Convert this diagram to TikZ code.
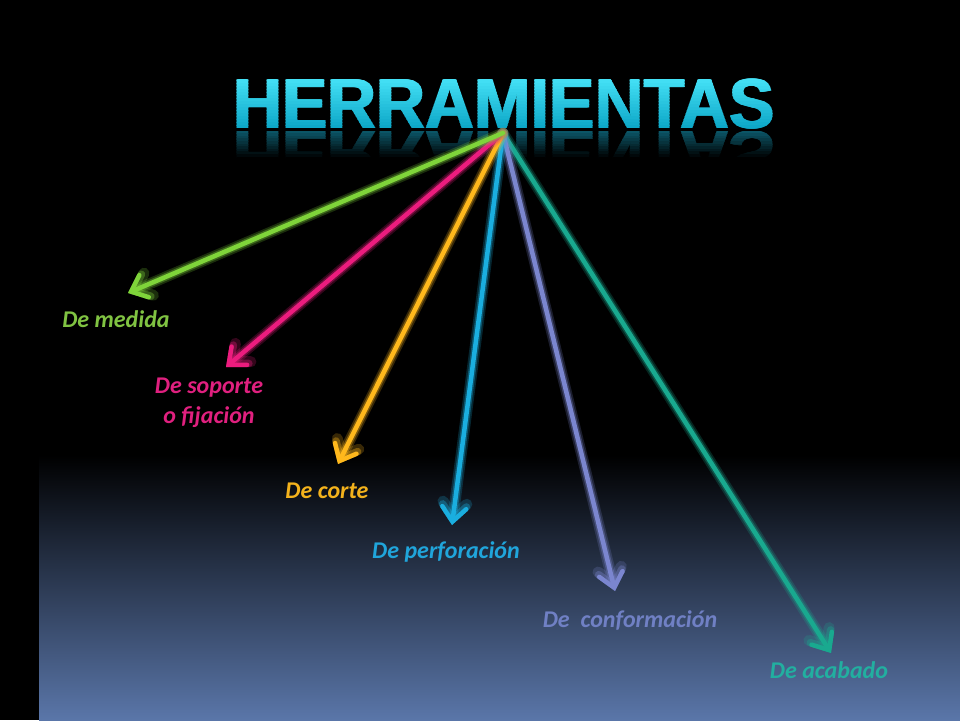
\documentclass[tikz,border=0pt]{standalone}
\usepackage{fontspec}
\setmainfont{Carlito}
\newfontfamily\titlefont{Liberation Sans}
\usetikzlibrary{arrows.meta}

\definecolor{bgbottom}{HTML}{5A76A9}
\definecolor{ctop}{HTML}{45E2F7}
\definecolor{cbot}{HTML}{0EA8C8}
\definecolor{rtop}{HTML}{0B5566}

\definecolor{agreen}{HTML}{7FD43A}
\definecolor{apink}{HTML}{EC1C7E}
\definecolor{aorange}{HTML}{FFB81C}
\definecolor{ablue}{HTML}{1AAEDF}
\definecolor{alav}{HTML}{7B86CF}
\definecolor{ateal}{HTML}{19A98F}

\definecolor{tgreen}{HTML}{80C342}
\definecolor{tpink}{HTML}{E0207F}
\definecolor{torange}{HTML}{F3B21C}
\definecolor{tblue}{HTML}{20A5DB}
\definecolor{tlav}{HTML}{7080C4}
\definecolor{tteal}{HTML}{22AFA0}

\tikzset{
  titletext/.style={anchor=base, inner sep=0pt, xscale=0.955,
    font=\titlefont\bfseries\fontsize{71}{71}\selectfont},
  lab/.style={anchor=base, inner sep=0pt, align=center,
    font=\bfseries\itshape\fontsize{24}{30}\selectfont},
  glowarrow/.style={draw=#1, line width=4.5pt, line cap=round,
    -{Straight Barb[length=14pt,width=24pt,line cap=round]},
    preaction={draw=#1, opacity=0.22, line width=11pt, line cap=round,
      -{Straight Barb[length=14pt,width=24pt,line cap=round]}},
    preaction={draw=#1, opacity=0.35, line width=7.5pt, line cap=round,
      -{Straight Barb[length=14pt,width=24pt,line cap=round]}}}
}

\begin{document}
\begin{tikzpicture}[x=1pt,y=-1pt]
  % background
  \fill[black] (0,0) rectangle (960,720);
  \shade[top color=black, bottom color=bgbottom] (39,455) rectangle (960,720);
  \useasboundingbox (0,0) rectangle (960,720);

  % title with vertical gradient (bands), thickened by small offsets
  \foreach \i in {0,...,16} {
    \pgfmathsetmacro\p{100-\i*100/16}
    \pgfmathsetmacro\ya{\i==0 ? 50 : 77.5+3*\i}
    \pgfmathsetmacro\yb{\i==16 ? 130.5 : 77.5+3*\i+3.3}
    \begin{scope}
      \clip (200,\ya) rectangle (810,\yb);
      \foreach \dx/\k in {-0.9/a,0/b,0.9/c} {
        \node[titletext, text=ctop!\p!cbot] (title\i\k) at (504+\dx,128.5) {HERRAMIENTAS};
      }
    \end{scope}
  }
  % reflection
  \foreach \i in {0,...,11} {
    \pgfmathsetmacro\p{max(0,100-\i*100/10)}
    \pgfmathsetmacro\ya{131+2.6*\i}
    \pgfmathsetmacro\yb{131+2.6*\i+2.9}
    \begin{scope}
      \clip (200,\ya) rectangle (810,\yb);
      \foreach \dx/\k in {-0.9/a,0/b,0.9/c} {
        \node[titletext, yscale=-1, text=rtop!\p!black] (refl\i\k) at (504+\dx,131) {HERRAMIENTAS};
      }
    \end{scope}
  }

  % hub and tips
  \coordinate (hub) at (503,133);
  \coordinate (tgreenpt) at (128,293);
  \coordinate (tpinkpt) at (226,367);
  \coordinate (torangept) at (338,464);
  \coordinate (tbluept) at (452,525);
  \coordinate (tlavpt) at (615,591);
  \coordinate (ttealpt) at (831,653);

  \draw[glowarrow=ateal] (hub) -- (ttealpt);
  \draw[glowarrow=alav] (hub) -- (tlavpt);
  \draw[glowarrow=ablue] (hub) -- (tbluept);
  \draw[glowarrow=aorange] (hub) -- (torangept);
  \draw[glowarrow=apink] (hub) -- (tpinkpt);
  \draw[glowarrow=agreen] (hub) -- (tgreenpt);

  % labels
  \node[lab, text=tgreen] (lmedida) at (116,327) {De medida};
  \node[lab, text=tpink] (lsoporte) at (209,423) {De soporte\\o fijación};
  \node[lab, text=torange] (lcorte) at (327,498) {De corte};
  \node[lab, text=tblue] (lperf) at (446,558) {De perforación};
  \node[lab, text=tlav] (lconf) at (630,627) {De\ \ conformación};
  \node[lab, text=tteal] (lacab) at (829,678) {De acabado};
\end{tikzpicture}
\end{document}
